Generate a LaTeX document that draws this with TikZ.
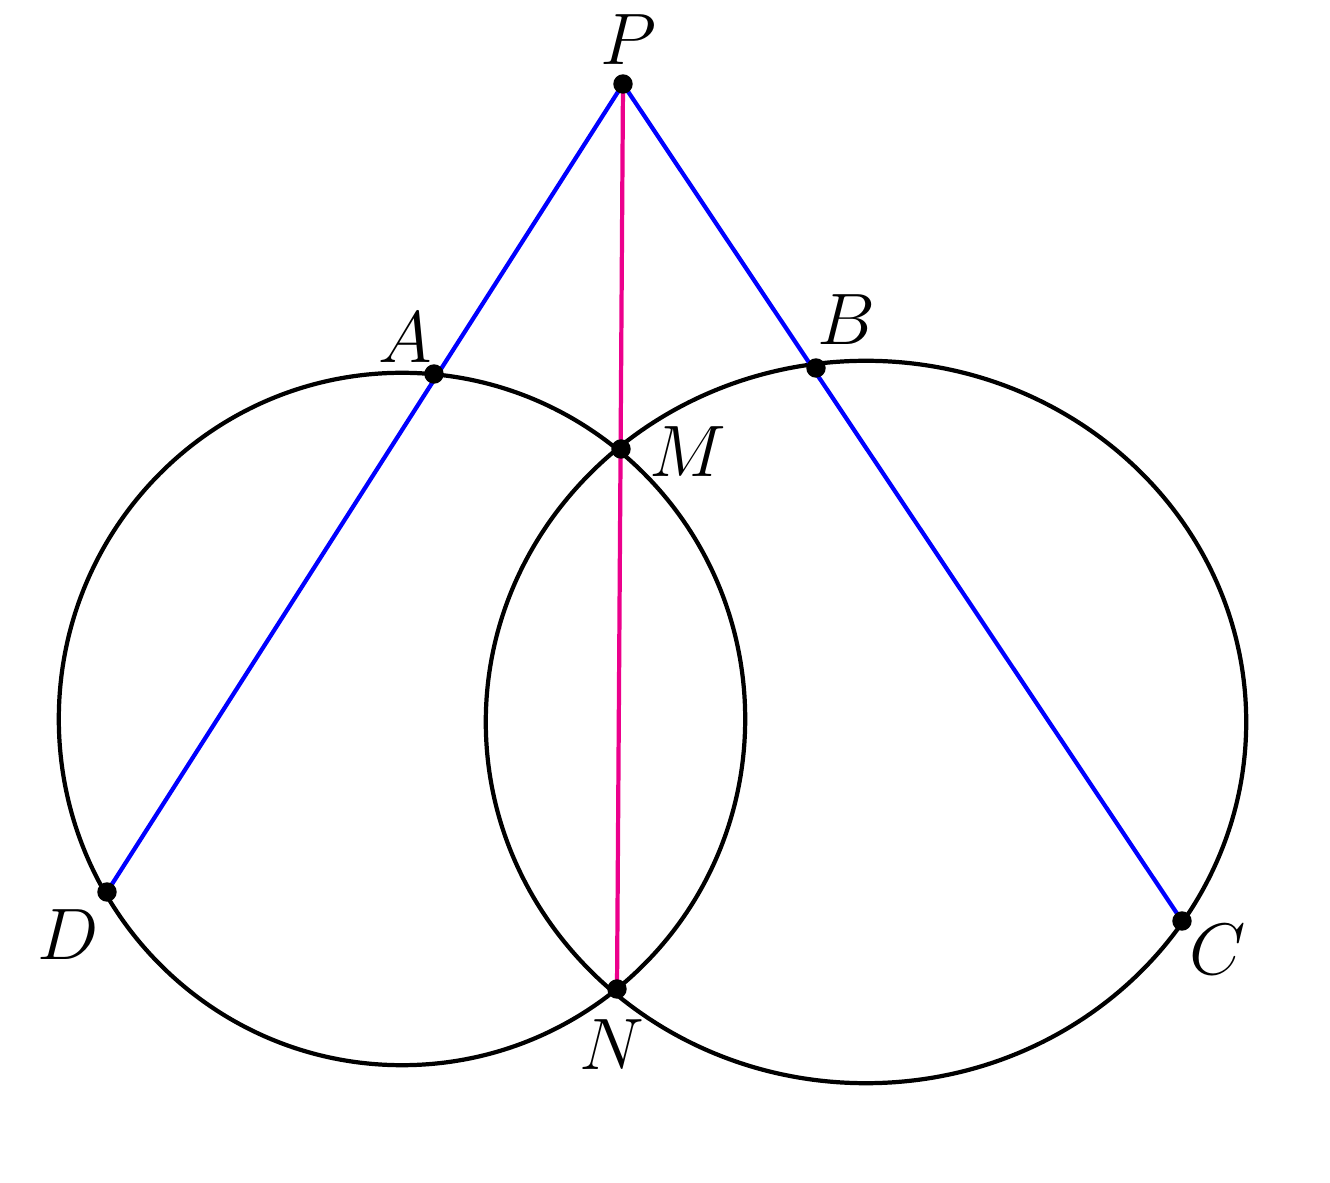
\documentclass[tikz,border=0pt]{standalone}
\usetikzlibrary{calc}
\tikzset{
 circ/.style={black, line width=1.2pt},
 seg/.style={blue, line width=1.2pt},
 mid/.style={magenta, line width=1.2pt},
 lbl/.style={font=\fontsize{21}{24}\selectfont}
}
\begin{document}
\begin{tikzpicture}[x=0.01cm, y=-0.01cm]
\useasboundingbox (0,0) rectangle (1330,1183);
\coordinate (P) at (623,84);
\coordinate (A) at (434,374);
\coordinate (B) at (816,368);
\coordinate (M) at (621,449);
\coordinate (N) at (617,989);
\coordinate (D) at (107,892);
\coordinate (C) at (1182,921);
\draw[circ] (402,719) ellipse [x radius=3.43cm, y radius=3.46cm];
\draw[circ] (866,722) ellipse [x radius=3.80cm, y radius=3.61cm];
\draw[seg] (D)--(P)--(C);
\draw[mid] (P)--(N);
\foreach \p in {P,A,B,M,N,D,C}
 \filldraw (\p) circle (0.09cm);
\node[lbl] (lP) at (628,40) {$P$};
\node[lbl] (lA) at (405,338) {$A$};
\node[lbl] (lB) at (846,320) {$B$};
\node[lbl] (lM) at (688,452) {$M$};
\node[lbl] (lN) at (612,1045) {$N$};
\node[lbl] (lD) at (68,935) {$D$};
\node[lbl] (lC) at (1218,950) {$C$};
\end{tikzpicture}
\end{document}
